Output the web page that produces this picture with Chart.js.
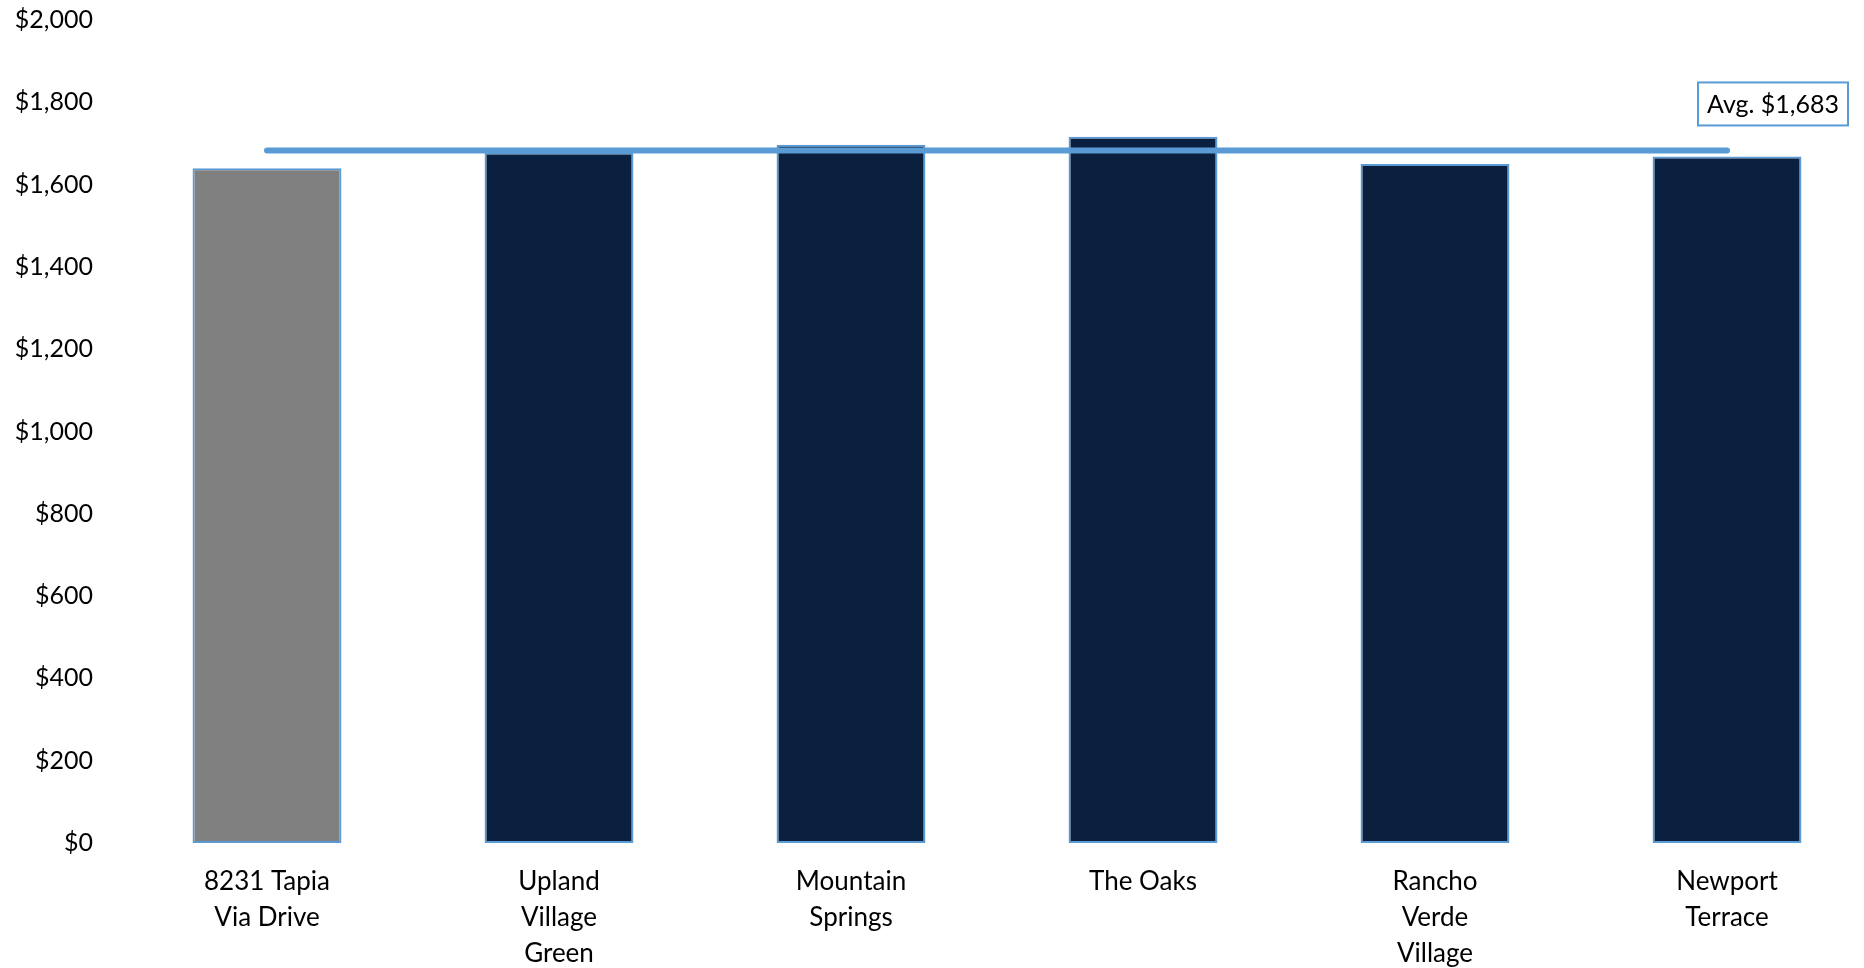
<!DOCTYPE html>
<html>
<head>
<meta charset="utf-8">
<title>Average Rent Comparison</title>
<script src="https://cdn.jsdelivr.net/npm/chart.js@4.4.1/dist/chart.umd.min.js"></script>
<style>
    html, body {
        margin: 0;
        padding: 0;
        background: #ffffff;
        overflow: hidden;
    }
    #wrap {
        position: relative;
        width: 1880px;
        height: 968px;
    }
</style>
</head>
<body>
<div id="wrap">
    <canvas id="rentChart"></canvas>
</div>
<script>
// chart values
const properties = [
    ['8231 Tapia', 'Via Drive'],
    ['Upland', 'Village', 'Green'],
    ['Mountain', 'Springs'],
    ['The Oaks'],
    ['Rancho', 'Verde', 'Village'],
    ['Newport', 'Terrace']
];
const rents = [1640, 1678, 1697, 1716, 1650, 1668];
const avgRent = 1683;
const yTicks = [0, 200, 400, 600, 800, 1000, 1200, 1400, 1600, 1800, 2000];

const SUBJECT_COLOR = '#808080';
const COMP_COLOR = '#0B1F3F';
const EDGE_COLOR = '#5B9BD5';
const FONT = 'Lato, "Liberation Sans", sans-serif';

function money(v) {
    return '$' + v.toLocaleString('en-US');
}

// draws the "Avg. $x" box just above the right end of the avg line
const avgLabelPlugin = {
    id: 'avgLabel',
    afterDatasetsDraw(chart) {
        const meta = chart.getDatasetMeta(1);
        const last = meta.data[meta.data.length - 1];
        if (!last) return;

        const ctx = chart.ctx;
        const text = 'Avg. ' + money(avgRent);
        ctx.save();
        ctx.font = '25px ' + FONT;
        const w = ctx.measureText(text).width + 18;
        const h = 43;
        const cx = last.x + 46;
        const bottom = chart.scales.y.getPixelForValue(avgRent) - 25;

        ctx.fillStyle = '#ffffff';
        ctx.fillRect(cx - w / 2, bottom - h, w, h);
        ctx.strokeStyle = EDGE_COLOR;
        ctx.lineWidth = 2;
        ctx.strokeRect(cx - w / 2, bottom - h, w, h);

        ctx.fillStyle = '#000000';
        ctx.textAlign = 'center';
        ctx.textBaseline = 'middle';
        ctx.fillText(text, cx, bottom - h / 2 + 1);
        ctx.restore();
    }
};

class RentChart {
    constructor() {
        this.chart = null;
        this.render();
    }

    render() {
        const ctx = document.getElementById('rentChart').getContext('2d');
        const barColors = rents.map((_, i) => i === 0 ? SUBJECT_COLOR : COMP_COLOR);
        const avgLine = properties.map(() => avgRent);

        this.chart = new Chart(ctx, {
            type: 'bar',
            data: {
                labels: properties,
                datasets: [
                    {
                        type: 'bar',
                        label: 'Rent',
                        data: rents,
                        backgroundColor: barColors,
                        borderColor: EDGE_COLOR,
                        borderWidth: 2,
                        borderSkipped: false,
                        barPercentage: 0.51,
                        categoryPercentage: 1.0,
                        order: 2
                    },
                    {
                        type: 'line',
                        label: 'Average',
                        data: avgLine,
                        borderColor: EDGE_COLOR,
                        borderWidth: 6,
                        borderCapStyle: 'round',
                        pointRadius: 0,
                        fill: false,
                        order: 1
                    }
                ]
            },
            options: {
                responsive: true,
                maintainAspectRatio: false,
                animation: false,
                layout: {
                    padding: { left: 0, right: 7, top: 20, bottom: 0 }
                },
                plugins: {
                    legend: { display: false },
                    tooltip: { enabled: false },
                    title: { display: false }
                },
                scales: {
                    x: {
                        grid: { display: false, drawTicks: false },
                        border: { display: false },
                        ticks: {
                            color: '#000000',
                            font: { family: FONT, size: 26, lineHeight: 1.385 },
                            padding: 21,
                            maxRotation: 0,
                            autoSkip: false
                        },
                        afterFit(scale) {
                            scale.height = 125;
                        }
                    },
                    y: {
                        min: 0,
                        max: 2000,
                        grid: { display: false, drawTicks: false },
                        border: { display: false },
                        afterBuildTicks(scale) {
                            scale.ticks = yTicks.map(v => ({ value: v }));
                        },
                        afterFit(scale) {
                            scale.width = 121;
                            scale.paddingTop = 0;
                            scale.paddingBottom = 0;
                        },
                        ticks: {
                            color: '#000000',
                            font: { family: FONT, size: 25 },
                            padding: 28,
                            callback: (v) => money(v)
                        }
                    }
                }
            },
            plugins: [avgLabelPlugin]
        });
    }
}

new RentChart();
</script>
</body>
</html>
